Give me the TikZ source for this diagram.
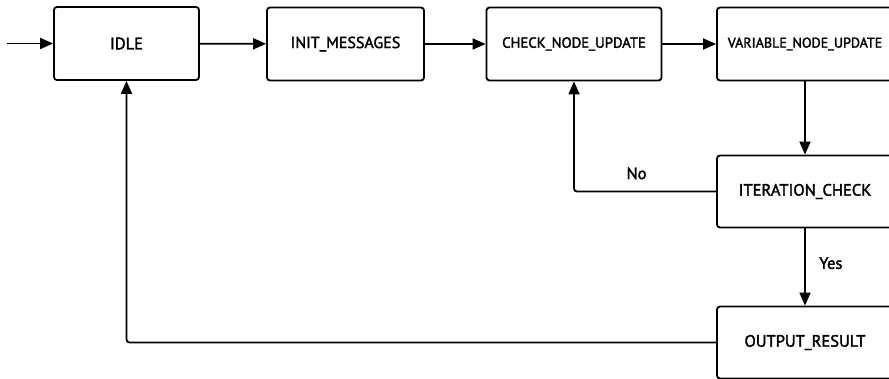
\documentclass[tikz,border=0pt]{standalone}
\usepackage{fontspec}
\setmainfont{PT Sans}[FakeBold=2]
\usetikzlibrary{arrows.meta, positioning}
\tikzset{
  state/.style={draw, line width=1.8pt, rounded corners=3pt, minimum height=73pt, inner sep=0pt, align=center, font=\fontsize{16.5}{18}\selectfont},
  flow/.style={-{Triangle[length=13pt,width=11pt]}, line width=1.8pt},
  guard/.style={font=\fontsize{16.5}{18}\selectfont},
}

\begin{document}
\begin{tikzpicture}[x=1pt, y=-1pt]
  \fill[white] (0,0) rectangle (889,378);
  \useasboundingbox (0,0) rectangle (889,378);
  % states, top row
  \node[state, minimum width=145pt] (idle) at (126.5,43.5) {IDLE};
  \node[state, minimum width=157pt, font=\fontsize{16}{18}\selectfont] (init) at (345.5,44) {INIT\_MESSAGES};
  \node[state, minimum width=175pt, font=\fontsize{14.7}{16}\selectfont] (check) at (574,44) {CHECK\_NODE\_UPDATE};
  \node[state, minimum width=176pt, font=\fontsize{14}{16}\selectfont] (var) at (805,44) {VARIABLE\_NODE\_UPDATE};
  % states, right column
  \node[state, minimum width=176pt, minimum height=72pt] (iter) at (805,191.5) {ITERATION\_CHECK};
  \node[state, minimum width=176pt, minimum height=72pt] (out) at (805,342.5) {OUTPUT\_RESULT};
  \coordinate (start) at (7,43.5);
  % transitions
  \draw[flow] (start) -- (idle);
  \draw[flow] (idle) -- (init);
  \draw[flow] (init) -- (check);
  \draw[flow] (check) -- (var);
  \draw[flow] (var) -- (iter);
  \draw[flow, rounded corners=3pt] (iter.west) -| node[guard, pos=0.28, above=8pt] {No} (check.south);
  \draw[flow] (iter) -- node[guard, pos=0.45, right=10pt] {Yes} (out);
  \draw[flow, rounded corners=3pt] (out.west) -| (idle.south);
\end{tikzpicture}
\end{document}
